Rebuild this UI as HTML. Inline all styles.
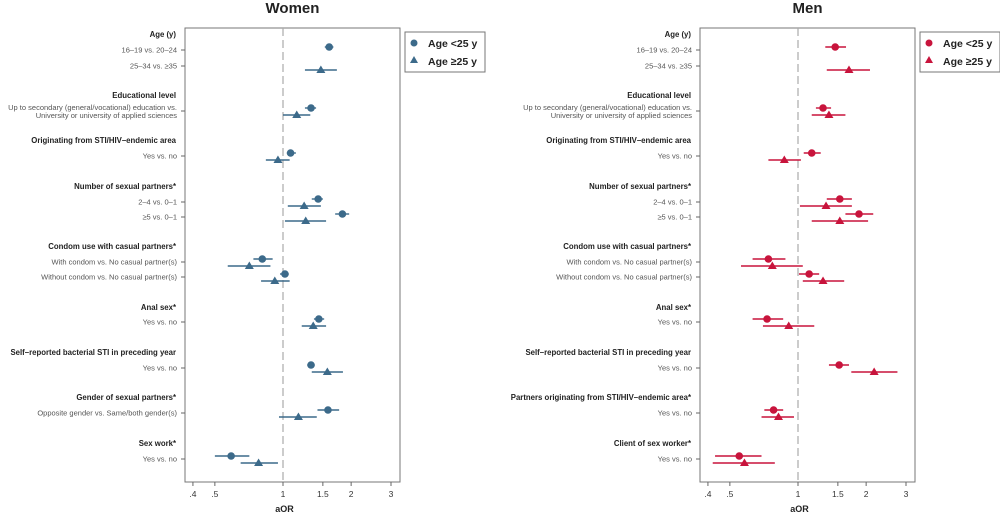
<!DOCTYPE html>
<html><head><meta charset="utf-8"><style>
html,body{margin:0;padding:0;background:#fff;}
svg{display:block;font-family:"Liberation Sans",sans-serif;}
</style></head><body>
<svg id="chart" width="1000" height="516" viewBox="0 0 1000 516"></svg>
<script>
// ---- data ----
const womenLabels = [
 ["h","Age (y)",35],["r","16–19 vs. 20–24",50],["r","25–34 vs. ≥35",66],
 ["h","Educational level",96],["r2","Up to secondary (general/vocational) education vs.|University or university of applied sciences",111],
 ["h","Originating from STI/HIV–endemic area",141],["r","Yes vs. no",156],
 ["h","Number of sexual partners*",187],["r","2–4 vs. 0–1",202],["r","≥5 vs. 0–1",217],
 ["h","Condom use with casual partners*",247],["r","With condom vs. No casual partner(s)",262],["r","Without condom vs. No casual partner(s)",277],
 ["h","Anal sex*",308],["r","Yes vs. no",322],
 ["h","Self–reported bacterial STI in preceding year",353],["r","Yes vs. no",368],
 ["h","Gender of sexual partners*",398],["r","Opposite gender vs. Same/both gender(s)",413],
 ["h","Sex work*",444],["r","Yes vs. no",459]
];
const menLabels = [
 ["h","Age (y)",35],["r","16–19 vs. 20–24",50],["r","25–34 vs. ≥35",66],
 ["h","Educational level",96],["r2","Up to secondary (general/vocational) education vs.|University or university of applied sciences",111],
 ["h","Originating from STI/HIV–endemic area",141],["r","Yes vs. no",156],
 ["h","Number of sexual partners*",187],["r","2–4 vs. 0–1",202],["r","≥5 vs. 0–1",217],
 ["h","Condom use with casual partners*",247],["r","With condom vs. No casual partner(s)",262],["r","Without condom vs. No casual partner(s)",277],
 ["h","Anal sex*",308],["r","Yes vs. no",322],
 ["h","Self–reported bacterial STI in preceding year",353],["r","Yes vs. no",368],
 ["h","Partners originating from STI/HIV–endemic area*",398],["r","Yes vs. no",413],
 ["h","Client of sex worker*",444],["r","Yes vs. no",459]
];
const rowY = [50,66,111,156,202,217,262,277,322,368,413,459];
// women: est, lo, hi
const womenYoung = [[1.60,1.53,1.67],null,[1.33,1.25,1.40],[1.08,1.04,1.14],[1.43,1.34,1.50],[1.83,1.70,1.96],[0.81,0.74,0.90],[1.02,0.97,1.06],[1.44,1.37,1.52],[1.33,1.28,1.38],[1.58,1.42,1.77],[0.59,0.50,0.71]];
const womenOld   = [null,[1.47,1.25,1.73],[1.15,1.00,1.32],[0.95,0.84,1.07],[1.24,1.05,1.47],[1.26,1.02,1.55],[0.71,0.57,0.88],[0.92,0.80,1.07],[1.36,1.21,1.55],[1.57,1.34,1.84],[1.17,0.96,1.41],[0.78,0.65,0.95]];
const menYoung = [[1.46,1.32,1.63],null,[1.29,1.20,1.40],[1.15,1.06,1.26],[1.53,1.34,1.73],[1.86,1.62,2.15],[0.74,0.63,0.88],[1.12,1.01,1.24],[0.73,0.63,0.86],[1.52,1.37,1.68],[0.78,0.71,0.86],[0.55,0.43,0.69]];
const menOld   = [null,[1.68,1.34,2.08],[1.37,1.15,1.62],[0.87,0.74,1.03],[1.33,1.02,1.73],[1.53,1.15,2.04],[0.77,0.56,1.05],[1.29,1.05,1.60],[0.91,0.70,1.18],[2.17,1.72,2.75],[0.82,0.69,0.96],[0.58,0.42,0.79]];
const tickVals = [0.4,0.5,1,1.5,2,3];
const tickLabels = [".4",".5","1","1.5","2","3"];

const NS="http://www.w3.org/2000/svg";
const svg=document.getElementById('chart');
function mk(tag,attrs,parent){const e=document.createElementNS(NS,tag);for(const k in attrs)e.setAttribute(k,attrs[k]);(parent||svg).appendChild(e);return e;}

function panel(opt){
 const g=mk('g',{});
 
 
 const x=v=>opt.x1+Math.log(v)*98.3;
 const L=opt.left,R=opt.right,T=28,B=482;
 const t=mk('text',{x:(L+R)/2,y:13,'text-anchor':'middle','font-size':15,'font-weight':'bold',fill:'#222'},g);
 t.textContent=opt.title;
 
 
 const box=mk('rect',{x:L,y:T,width:R-L,height:B-T,fill:'none',stroke:'#777','stroke-width':1},g);
 
 
 const ref=mk('line',{x1:x(1),x2:x(1),y1:T,y2:B,stroke:'#aaa','stroke-width':1.2,'stroke-dasharray':'8,4'},g);
 
 
 tickVals.forEach((v,i)=>{
  mk('line',{x1:x(v),x2:x(v),y1:B,y2:B+4,stroke:'#666'},g);
  const tl=mk('text',{x:x(v),y:497,'text-anchor':'middle','font-size':8.5,fill:'#333'},g);
  tl.textContent=tickLabels[i];
  
  
 });
 const at=mk('text',{x:(L+R)/2-8,y:512,'text-anchor':'middle','font-size':9,'font-weight':'bold',fill:'#222'},g);
 at.textContent='aOR';
 
 
 opt.labels.forEach(l=>{
  if(l[0]==='h'){
   const e=mk('text',{x:L-9,y:l[2]+2,'text-anchor':'end','font-size':7.8,'font-weight':'bold',fill:'#222'},g);
   e.textContent=l[1];
   
   
  } else {
   mk('line',{x1:L-4,x2:L,y1:l[2],y2:l[2],stroke:'#666'},g);
   const parts=l[1].split('|');
   parts.forEach((p,j)=>{
    const yy=parts.length>1?l[2]-1+j*8:l[2]+2.5;
    const e=mk('text',{x:L-8,y:yy,'text-anchor':'end','font-size':7.5,fill:'#555'},g);
    e.textContent=p;
    
    
   });
  }
 });
 const draw=(arr,isTri)=>{
  arr.forEach((d,i)=>{
   if(!d)return;
   const y=rowY[i]+(isTri?4:-3);
   const ci=mk('line',{x1:x(d[1]),x2:x(d[2]),y1:y,y2:y,stroke:opt.color,'stroke-width':1.4},g);
   
   
   let m;
   if(isTri){const cx=x(d[0]);m=mk('polygon',{points:`${cx-4.5},${y+3} ${cx+4.5},${y+3} ${cx},${y-4.5}`,fill:opt.color},g);}
   else m=mk('circle',{cx:x(d[0]),cy:y,r:3.8,fill:opt.color},g);
   
   
  });
 };
 draw(opt.young,false);draw(opt.old,true);
 const lg=mk('g',{},g);
 
 
 mk('rect',{x:R+5,y:32,width:80,height:40,fill:'#fff',stroke:'#777'},lg);
 mk('circle',{cx:R+14,cy:43,r:3.5,fill:opt.color},lg);
 mk('polygon',{points:`${R+10},${63} ${R+18},${63} ${R+14},${56}`,fill:opt.color},lg);
 const a=mk('text',{x:R+28,y:47,'font-size':10.5,'font-weight':'bold',fill:'#222'},lg);a.textContent='Age <25 y';
 
 
 const b=mk('text',{x:R+28,y:65,'font-size':10.5,'font-weight':'bold',fill:'#222'},lg);b.textContent='Age ≥25 y';
 
 
}
panel({key:'women',title:'Women',left:185,right:400,x1:283,color:'#3c6a8a',labels:womenLabels,young:womenYoung,old:womenOld});
panel({key:'men',title:'Men',left:700,right:915,x1:798,color:'#c8143c',labels:menLabels,young:menYoung,old:menOld});
</script>
</body></html>
